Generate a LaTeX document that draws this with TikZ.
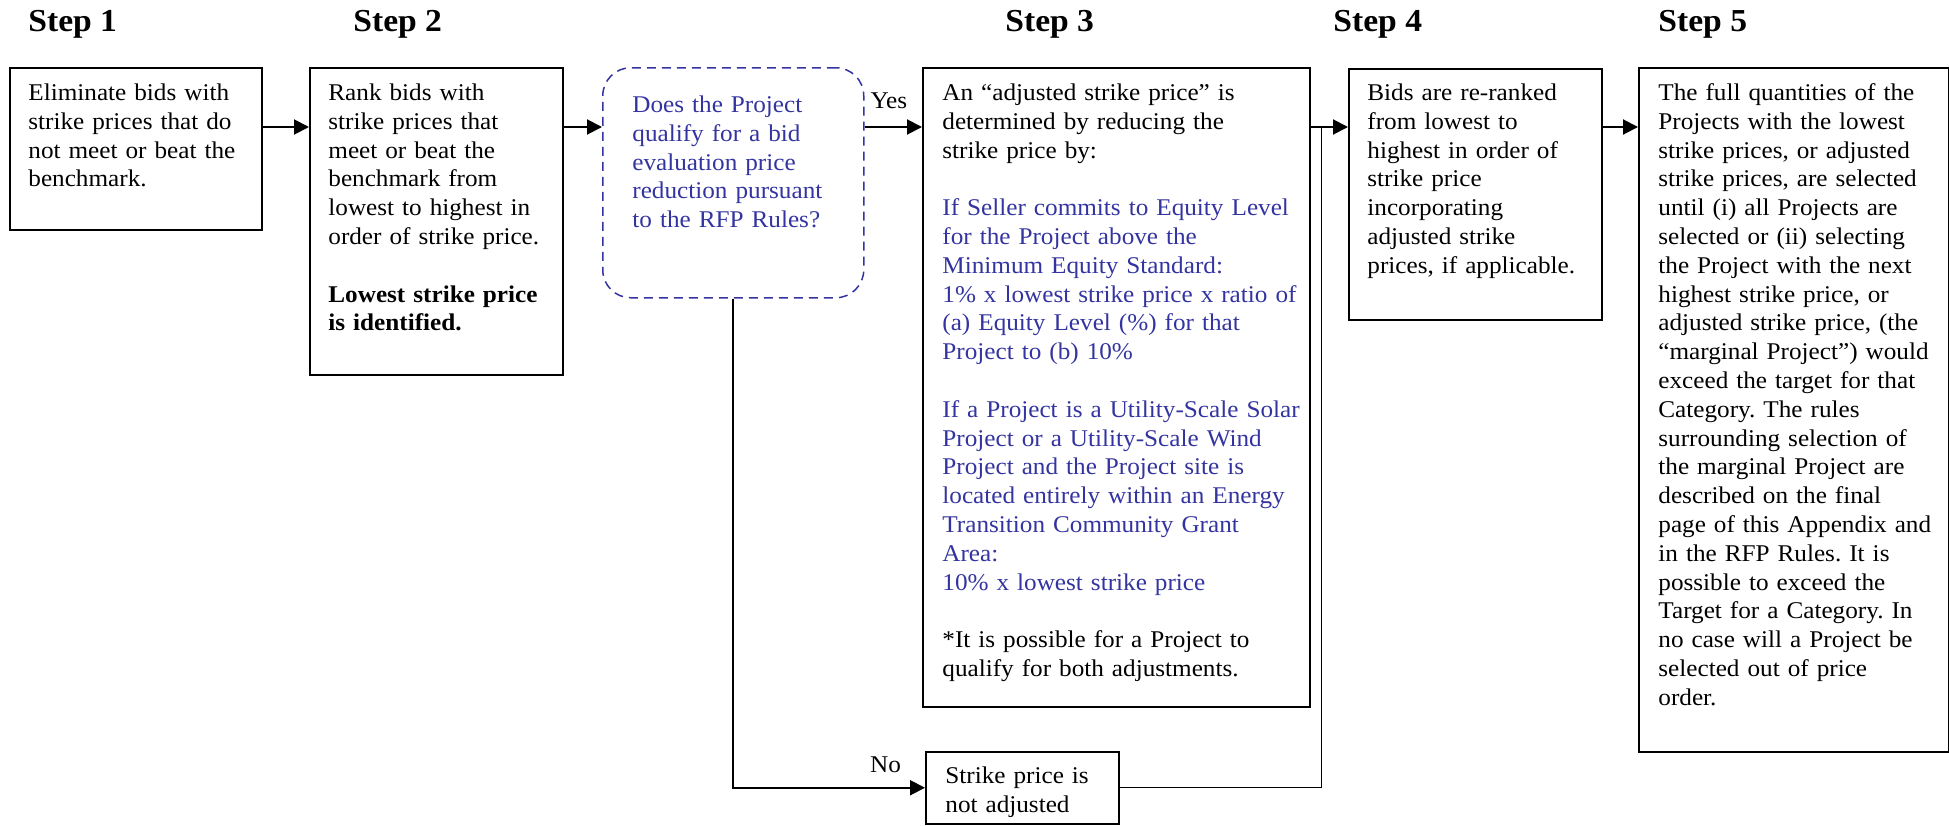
\documentclass[tikz,border=0pt]{standalone}
\usepackage{fontspec}
\setmainfont{Liberation Serif}[FakeStretch=1.05]
\usetikzlibrary{positioning,arrows.meta}
\definecolor{stepblue}{RGB}{52,52,160}
\frenchspacing

\begin{document}
\begin{tikzpicture}[x=1pt, y=1pt,
    stepbox/.style={draw, line width=1pt, anchor=north west, inner sep=0pt},
    askbox/.style={draw=stepblue, line width=0.75pt, dash pattern=on 4.5pt off 3pt,
        rounded corners=14pt, anchor=north west, inner sep=0pt},
    bodytext/.style={inner sep=0pt, align=left, font=\fontsize{12}{14.4}\selectfont},
    steplabel/.style={anchor=base west, inner sep=0pt, font=\fontsize{16}{19}\selectfont\bfseries},
    lbl/.style={inner sep=0pt, font=\fontsize{12}{14.4}\selectfont},
    arr/.style={-{Triangle[length=7.5pt, width=7.5pt]}, line width=1pt}]
    \useasboundingbox (0,0) rectangle (974.5,-412.5);

    % step headings
    \node[steplabel] (h1) at (14,-15.5) {Step 1};
    \node[steplabel] (h2) at (176.5,-15.5) {Step 2};
    \node[steplabel] (h3) at (502.5,-15.5) {Step 3};
    \node[steplabel] (h4) at (666.5,-15.5) {Step 4};
    \node[steplabel] (h5) at (829,-15.5) {Step 5};

    % boxes
    \node[stepbox, minimum width=126pt, minimum height=81pt] (s1) at (4.5,-33.5) {};
    \node[stepbox, minimum width=126.5pt, minimum height=153.5pt] (s2) at (154.5,-33.5) {};
    \node[askbox, minimum width=130.5pt, minimum height=115pt] (q) at (301,-33.5) {};
    \node[stepbox, minimum width=193.5pt, minimum height=319.5pt] (s3) at (461,-33.5) {};
    \node[stepbox, minimum width=126.5pt, minimum height=125.5pt] (s4) at (674,-34) {};
    \node[stepbox, minimum width=155pt, minimum height=342pt] (s5) at (819,-33.5) {};
    \node[stepbox, line width=0.75pt, minimum width=96.5pt, minimum height=36pt] (nb) at (462.5,-375.5) {};

    % box texts
    \node[bodytext, text width=120pt, below right=6.42pt and 9.5pt of s1.north west] (t1)
        {\strut Eliminate bids with\\ strike prices that do\\ not meet or beat the\\ benchmark.};
    \node[bodytext, text width=120pt, below right=6.42pt and 9.5pt of s2.north west] (t2)
        {\strut Rank bids with\\ strike prices that\\ meet or beat the\\ benchmark from\\ lowest to highest in\\ order of strike price.\\[14.4pt]
        \bfseries Lowest strike price\\ is identified.};
    \node[bodytext, text=stepblue, text width=115pt, below right=12.42pt and 15pt of q.north west] (tq)
        {\strut Does the Project\\ qualify for a bid\\ evaluation price\\ reduction pursuant\\ to the RFP Rules?};
    \node[bodytext, text width=185pt, below right=6.42pt and 10pt of s3.north west] (t3)
        {\strut An “adjusted strike price” is\\ determined by reducing the\\ strike price by:\\[14.4pt]
        \color{stepblue}If Seller commits to Equity Level\\ for the Project above the\\ Minimum Equity Standard:\\
        1\% x lowest strike price x ratio of\\ (a) Equity Level (\%) for that\\ Project to (b) 10\%\\[14.4pt]
        If a Project is a Utility-Scale Solar\\ Project or a Utility-Scale Wind\\ Project and the Project site is\\
        located entirely within an Energy\\ Transition Community Grant\\ Area:\\ 10\% x lowest strike price\\[14.4pt]
        \color{black}*It is possible for a Project to\\ qualify for both adjustments.};
    \node[bodytext, text width=120pt, below right=5.92pt and 9.5pt of s4.north west] (t4)
        {\strut Bids are re-ranked\\ from lowest to\\ highest in order of\\ strike price\\ incorporating\\ adjusted strike\\ prices, if applicable.};
    \node[bodytext, text width=150pt, below right=6.42pt and 10pt of s5.north west] (t5)
        {\strut The full quantities of the\\ Projects with the lowest\\ strike prices, or adjusted\\ strike prices, are selected\\
        until (i) all Projects are\\ selected or (ii) selecting\\ the Project with the next\\ highest strike price, or\\
        adjusted strike price, (the\\ “marginal Project”) would\\ exceed the target for that\\ Category. The rules\\
        surrounding selection of\\ the marginal Project are\\ described on the final\\ page of this Appendix and\\
        in the RFP Rules. It is\\ possible to exceed the\\ Target for a Category. In\\ no case will a Project be\\
        selected out of price\\ order.};
    \node[bodytext, text width=85pt, below right=5.92pt and 10pt of nb.north west] (tn)
        {\strut Strike price is\\ not adjusted};

    % connectors
    \coordinate (rowy) at (0,-63.5);
    \coordinate (merge) at (660.5,-63.5);
    \draw[arr] (s1.east |- rowy) -- (s2.west |- rowy);
    \draw[arr] (s2.east |- rowy) -- (q.west |- rowy);
    \draw[arr] (q.east |- rowy) -- node[lbl, pos=0, anchor=base west, xshift=2.5pt, yshift=9.5pt] {Yes} (s3.west |- rowy);
    \draw[arr] (s3.east |- rowy) -- (s4.west |- rowy);
    \draw[arr] (s4.east |- rowy) -- (s5.west |- rowy);
    \draw[arr] (q.south) |- node[lbl, pos=1, anchor=base east, xshift=-11.5pt, yshift=7.5pt] {No} (nb.west);
    \draw[line width=0.5pt] (nb.east) -| (merge);
\end{tikzpicture}
\end{document}
